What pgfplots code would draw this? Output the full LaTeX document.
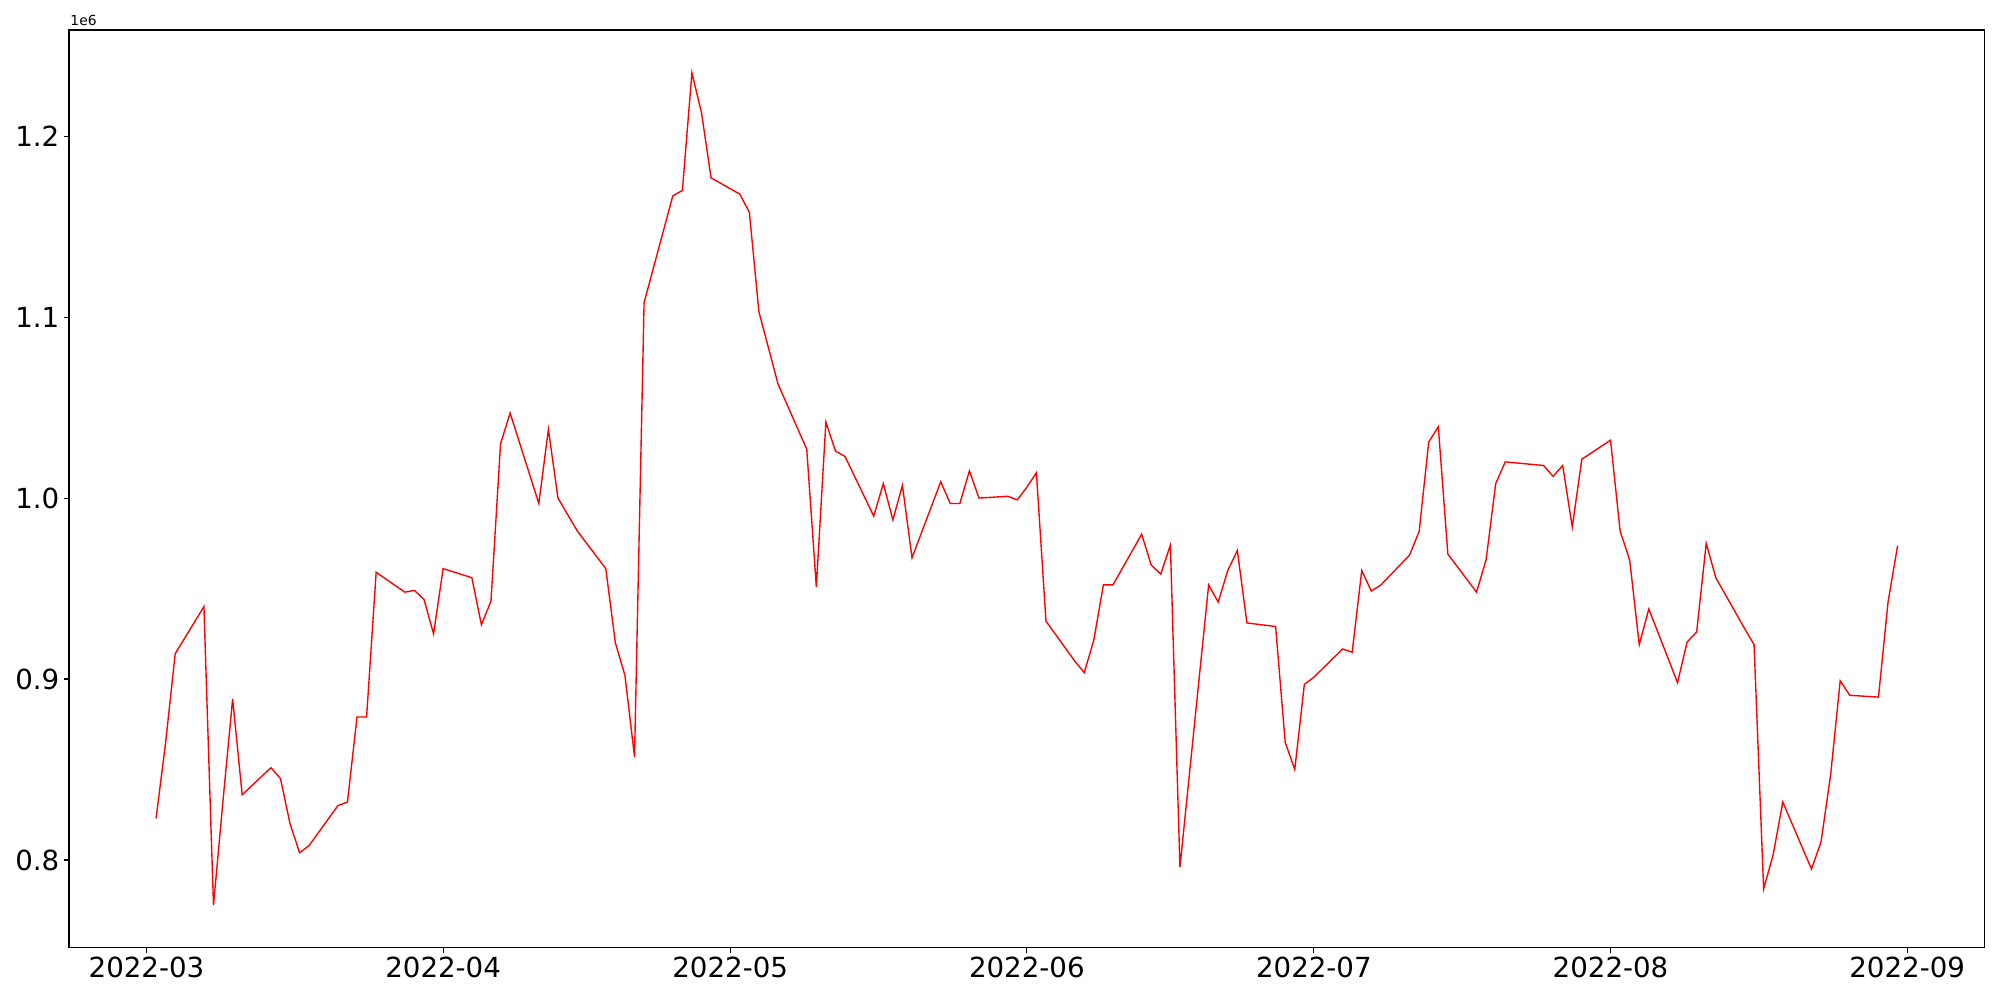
\documentclass[border=0pt]{standalone}
\usepackage{fontspec}
\setmainfont{DejaVu Sans}
\usepackage{pgfplots}
\pgfplotsset{compat=1.18}

\begin{document}
\begin{tikzpicture}
\begin{axis}[
  name=ax, scale only axis, width=48.659cm, height=23.31cm,
  xmin=-8.1, xmax=192.1, ymin=0.7515, ymax=1.2587,
  axis line style={line width=0.8pt},
  tick style={line width=0.8pt, black},
  tick align=outside, major tick length=3.5pt,
  xtick pos=bottom, ytick pos=left,
  xtick={0,31,61,92,122,153,184},
  xticklabels={2022-03,2022-04,2022-05,2022-06,2022-07,2022-08,2022-09},
  ytick={0.8,0.9,1.0,1.1,1.2},
  yticklabel style={/pgf/number format/.cd, fixed, fixed zerofill, precision=1, assume math mode=true},
  tick label style={font=\fontsize{20}{24}\selectfont},
  minor tick num=0,
]
% days counted from 2022-03-01, values in units of 1e6
\addplot[red, line width=1pt] coordinates {
(1,0.823) (2,0.865) (3,0.914) (6,0.940) (7,0.775) (8,0.833) (9,0.889) (10,0.836)
(13,0.851) (14,0.845) (15,0.820) (16,0.804) (17,0.808)
(20,0.830) (21,0.832) (22,0.879) (23,0.879) (24,0.959)
(27,0.948) (28,0.949) (29,0.944) (30,0.925) (31,0.961)
(34,0.956) (35,0.930) (36,0.943) (37,1.030) (38,1.047)
(41,0.997) (42,1.038) (43,1.000) (44,0.991) (45,0.982)
(48,0.961) (49,0.920) (50,0.902) (51,0.857) (52,1.108)
(55,1.167) (56,1.170) (57,1.235) (58,1.213) (59,1.177)
(62,1.168) (63,1.158) (64,1.103) (65,1.083) (66,1.063)
(69,1.027) (70,0.951) (71,1.042) (72,1.026) (73,1.023)
(76,0.990) (77,1.008) (78,0.988) (79,1.007) (80,0.967)
(83,1.009) (84,0.997) (85,0.997) (86,1.015) (87,1.000)
(90,1.001) (91,0.999) (92,1.006) (93,1.014) (94,0.932)
(97,0.910) (98,0.9035) (99,0.9215) (100,0.952) (101,0.952)
(104,0.980) (105,0.963) (106,0.958) (107,0.974) (108,0.796)
(111,0.952) (112,0.9425) (113,0.960) (114,0.971) (115,0.931)
(118,0.929) (119,0.865) (120,0.850) (121,0.897) (122,0.901)
(125,0.9166) (126,0.9148) (127,0.960) (128,0.9486) (129,0.952)
(132,0.9685) (133,0.9816) (134,1.031) (135,1.0394) (136,0.969)
(139,0.948) (140,0.966) (141,1.008) (142,1.020) (143,1.0195)
(146,1.018) (147,1.012) (148,1.018) (149,0.984) (150,1.0215)
(153,1.032) (154,0.9818) (155,0.9658) (156,0.919) (157,0.9387)
(160,0.898) (161,0.9204) (162,0.926) (163,0.975) (164,0.956)
(167,0.928) (168,0.919) (169,0.784) (170,0.803) (171,0.832)
(174,0.795) (175,0.810) (176,0.847) (177,0.899) (178,0.891)
(181,0.890) (182,0.9425) (183,0.9737)
};
\end{axis}
\node[anchor=base west, inner sep=0pt, font=\fontsize{10}{12}\selectfont]
  at ([xshift=0.03cm, yshift=0.11cm]ax.north west) {1e6};
\pgfresetboundingbox
\path[use as bounding box] (-1.7526cm,-1.328cm) rectangle (49.048cm,24.072cm);
\end{tikzpicture}
\end{document}
